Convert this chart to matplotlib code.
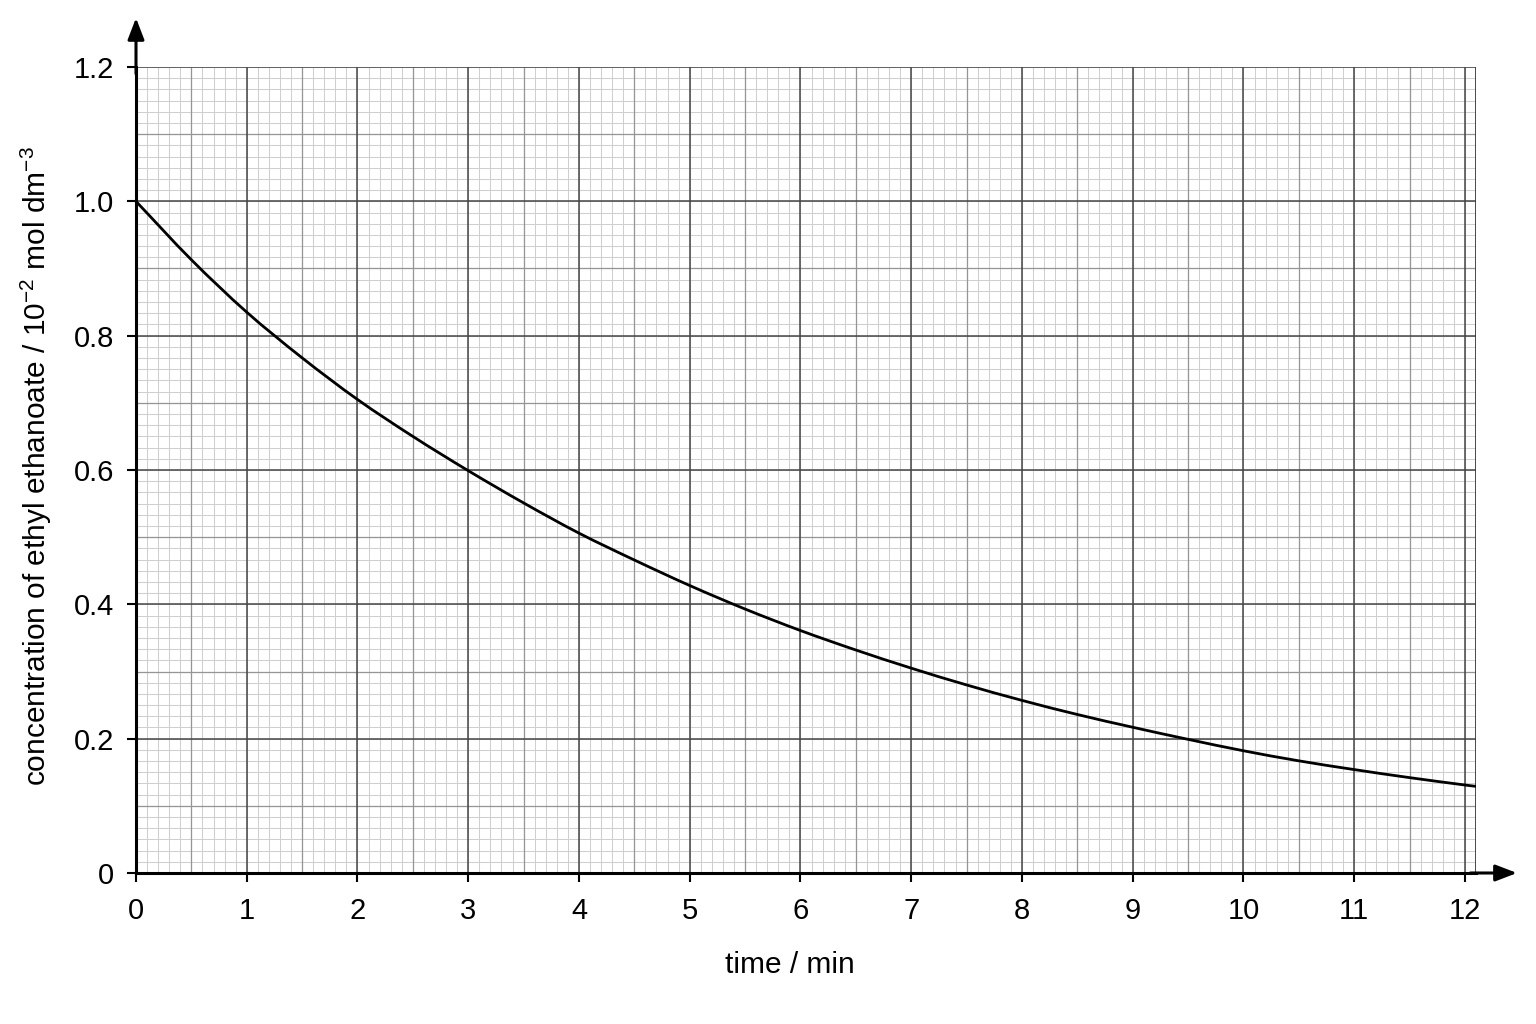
import numpy as np
import matplotlib
matplotlib.use("Agg")
import matplotlib.pyplot as plt
from matplotlib.path import Path
from matplotlib.patches import PathPatch

plt.rcParams['font.family'] = ['Liberation Sans', 'DejaVu Sans']
plt.rcParams['mathtext.fontset'] = 'custom'
plt.rcParams['mathtext.rm'] = 'Liberation Sans'

# data
time_min = [0, 0.5, 1, 1.5, 2, 2.5, 3, 3.5, 4, 4.5, 5, 5.5, 6, 6.5, 7, 7.5,
            8, 8.5, 9, 9.5, 10, 10.5, 11, 11.5, 12, 12.1]
concentration = [1.000, 0.913, 0.835, 0.767, 0.705, 0.650, 0.599, 0.551, 0.506,
                 0.466, 0.428, 0.393, 0.361, 0.332, 0.305, 0.280, 0.257, 0.236,
                 0.217, 0.199, 0.182, 0.167, 0.154, 0.142, 0.131, 0.129]
x_ticks = list(range(0, 13))
y_ticks = [0, 0.2, 0.4, 0.6, 0.8, 1.0, 1.2]
y_tick_labels = ['0', '0.2', '0.4', '0.6', '0.8', '1.0', '1.2']

fig = plt.figure(figsize=(15.36, 10.24), dpi=100)
ax = fig.add_axes([136/1536, 151/1024, (1476-136)/1536, (873-67)/1024])
XMAX = 12.1
YMAX = 1.2
ax.set_xlim(0, XMAX)
ax.set_ylim(0, YMAX)

# graph paper grid
minor_x = np.arange(0, XMAX + 1e-6, 0.1)
minor_y = np.arange(0, YMAX + 1e-6, 0.2/12)
ax.vlines(minor_x, 0, YMAX, colors='#cfcfcf', lw=0.75, zorder=1)
ax.hlines(minor_y, 0, XMAX, colors='#cfcfcf', lw=0.75, zorder=1)
mid_x = np.arange(0.5, XMAX, 1.0)
mid_y = np.arange(0.1, YMAX, 0.2)
ax.vlines(mid_x, 0, YMAX, colors='#959595', lw=0.9, zorder=2)
ax.hlines(mid_y, 0, XMAX, colors='#959595', lw=0.9, zorder=2)
ax.vlines(x_ticks, 0, YMAX, colors='#454545', lw=1.1, zorder=3)
ax.hlines(y_ticks, 0, XMAX, colors='#454545', lw=1.1, zorder=3)
ax.vlines([XMAX], 0, YMAX, colors='#3a3a3a', lw=1.3, zorder=3)

# smooth curve through the read points (Catmull-Rom -> cubic Bezier path)
px = np.array(time_min, dtype=float)
py = np.array(concentration, dtype=float)
verts = [(px[0], py[0])]
codes = [Path.MOVETO]
n = len(px)
for i in range(n - 1):
    x0, y0 = (px[i - 1], py[i - 1]) if i > 0 else (px[i], py[i])
    x1, y1 = px[i], py[i]
    x2, y2 = px[i + 1], py[i + 1]
    x3, y3 = (px[i + 2], py[i + 2]) if i + 2 < n else (px[i + 1], py[i + 1])
    h = x2 - x1
    m1 = ((y2 - y0) / (x2 - x0)) if x2 != x0 else 0.0
    m2 = ((y3 - y1) / (x3 - x1)) if x3 != x1 else 0.0
    verts += [(x1 + h / 3, y1 + m1 * h / 3), (x2 - h / 3, y2 - m2 * h / 3), (x2, y2)]
    codes += [Path.CURVE4, Path.CURVE4, Path.CURVE4]
ax.add_patch(PathPatch(Path(verts, codes), facecolor='none', edgecolor='black',
                       lw=2.0, zorder=5, capstyle='butt'))

for s in ['top', 'right']:
    ax.spines[s].set_visible(False)
ax.spines['left'].set_linewidth(2.2)
ax.spines['bottom'].set_linewidth(2.2)
ax.spines['left'].set_zorder(6)
ax.spines['bottom'].set_zorder(6)

# axis arrows
ax.annotate('', xy=(12.47, 0), xytext=(XMAX - 0.05, 0),
            arrowprops=dict(arrowstyle='-|>,head_length=1.3,head_width=0.5',
                            color='black', lw=2.2, shrinkA=0, shrinkB=0),
            annotation_clip=False, zorder=7)
ax.annotate('', xy=(0, 1.273), xytext=(0, YMAX - 0.01),
            arrowprops=dict(arrowstyle='-|>,head_length=1.3,head_width=0.5',
                            color='black', lw=2.2, shrinkA=0, shrinkB=0),
            annotation_clip=False, zorder=7)

ax.set_xticks(x_ticks)
ax.set_xticklabels([str(v) for v in x_ticks])
ax.set_yticks(y_ticks)
ax.set_yticklabels(y_tick_labels)
ax.tick_params(axis='both', direction='out', length=6.5, width=1.5,
               labelsize=21, colors='black')
ax.tick_params(axis='x', pad=11)
ax.tick_params(axis='y', pad=9)

ax.set_xlabel('time / min', fontsize=21.5)
ax.xaxis.set_label_coords(0.488, -0.097)
ax.xaxis.label.set_va('top')
ax.set_ylabel(r'concentration of ethyl ethanoate / 10$^{\mathregular{-2}}$ mol dm$^{\mathregular{-3}}$',
              fontsize=21.5)
ax.yaxis.set_label_coords(-0.061, 0.505)

fig.savefig('out.png', dpi=100, facecolor='white')
